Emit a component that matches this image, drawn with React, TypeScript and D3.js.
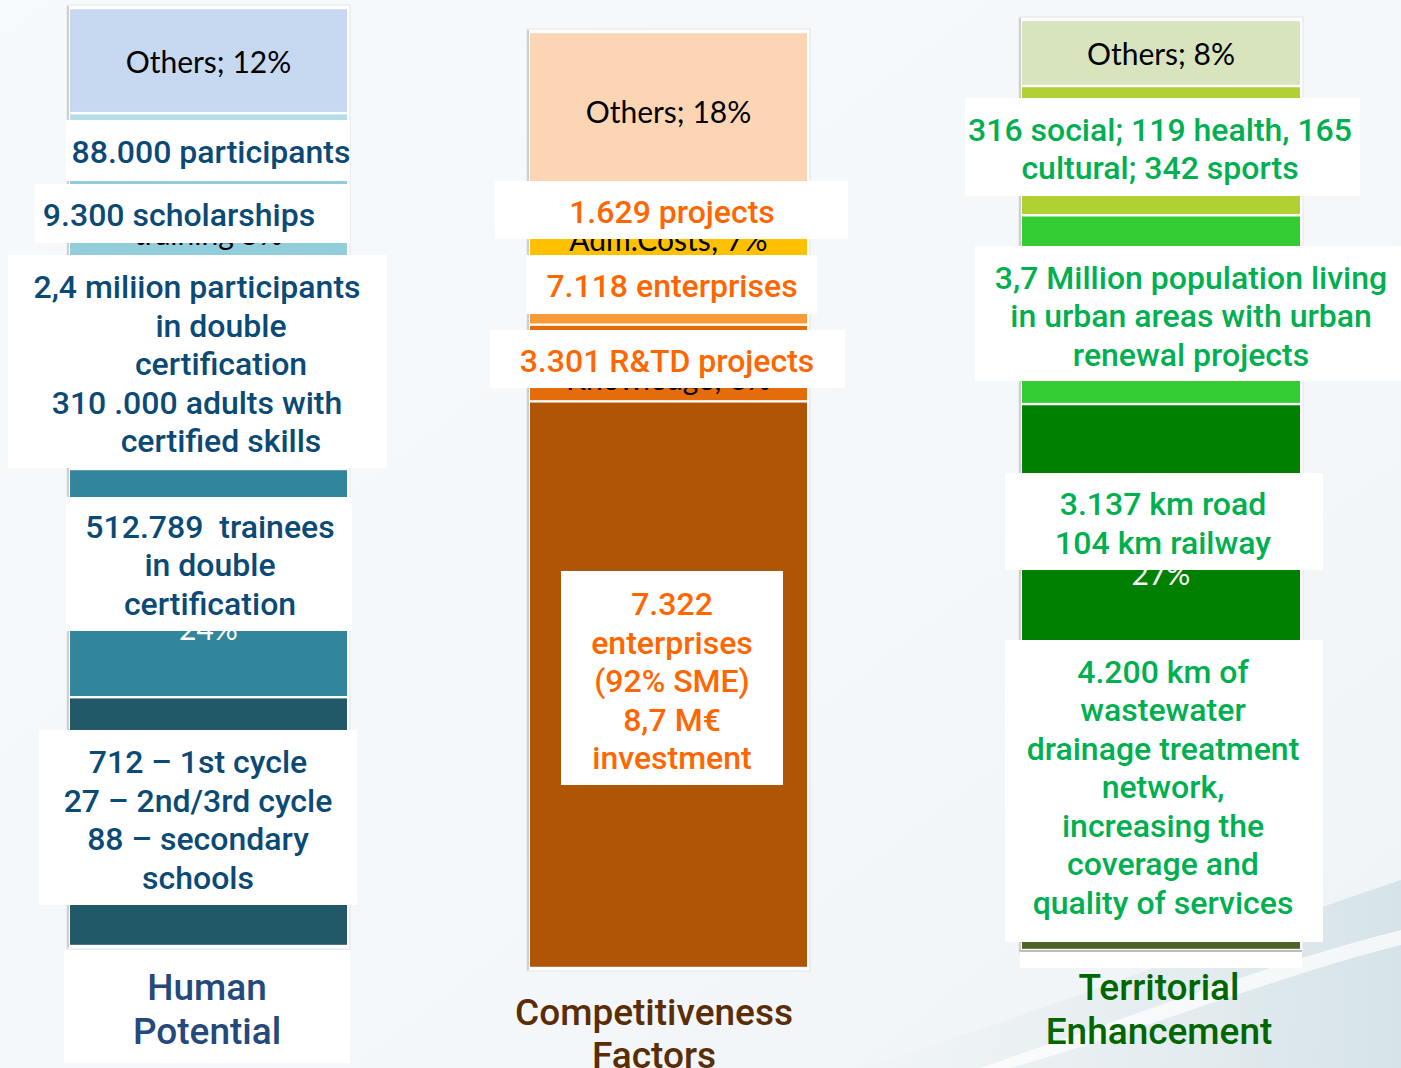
import React from "react";
import * as d3 from "d3";

// Human Potential
const hpNames = ["Others", "Social Development", "Advanced Training", "Adult Learning", "Initial Qualification", "Education Infrastructure"];
const hpValues = [11.2, 6.9, 8.5, 22.5, 24.3, 26.5];
// label lines; "" keeps the slot of a line that lies under a call-out box
const hpLabels = [
  ["Others; 12%"],
  ["Social Develop-", ""],
  ["", "training 5%"],
  [],
  ["", "", "", "24%"],
  [],
];
const hpNotes = [
  ["88.000 participants"],
  ["9.300 scholarships"],
  ["2,4 miliion participants", "in double", "certification", "310 .000 adults with", "certified skills"],
  ["512.789  trainees", "in double", "certification"],
  ["712 – 1st cycle", "27 – 2nd/3rd cycle", "88 – secondary", "schools"],
];

// Competitiveness Factors
const cfNames = ["Others", "Adm.Costs", "Incentives", "Knowledge", "Enterprises"];
const cfValues = [16.9, 7.3, 7.1, 8.2, 60.6];
const cfLabels = [
  ["Others; 18%"],
  ["", "Adm.Costs; 7%"],
  [],
  ["", "Knowledge; 8%"],
  [],
];
const cfNotes = [
  ["1.629 projects"],
  ["7.118 enterprises"],
  ["3.301 R&TD projects"],
  ["7.322", "enterprises", "(92% SME)", "8,7 M€", "investment"],
];

// Territorial Enhancement
const teNames = ["Others", "Equipment", "Urban Regeneration", "Transport", "Environment"];
const teValues = [7.1, 13.9, 20.3, 26.7, 32.0];
const teLabels = [
  ["Others; 8%"],
  [],
  [],
  ["", "", "", "27%"],
  [],
];
const teNotes = [
  ["316 social; 119 health, 165", "cultural; 342 sports"],
  ["3,7 Million population living", "in urban areas with urban", "renewal projects"],
  ["3.137 km road", "104 km railway"],
  ["4.200 km of", "wastewater", "drainage treatment", "network,", "increasing the", "coverage and", "quality of services"],
];

const titles = [["Human", "Potential"], ["Competitiveness", "Factors"], ["Territorial", "Enhancement"]];

// styles
const hpColors = ["#C6D9F1", "#B7DEE8", "#92CDDC", "#4BACC6", "#31859C", "#215968"];
const cfColors = ["#FCD5B5", "#FFC000", "#F99A38", "#E46C0A", "#B05506"];
const teColors = ["#D7E4BD", "#B0D034", "#33CC33", "#008000", "#4F6228"];
const hpLabelInk = ["#000", "#000", "#000", "#fff", "#fff", "#fff"];
const cfLabelInk = ["#000", "#000", "#000", "#000", "#fff"];
const teLabelInk = ["#000", "#000", "#000", "#fff", "#fff"];

const W = 1401;
const H = 1068;
const noteFont = "Roboto, 'Open Sans', sans-serif";
const labelFont = "Lato, 'Liberation Sans', sans-serif";

// layout of the three panels and their call-out boxes
const panels = [
  {
    names: hpNames, values: hpValues, labels: hpLabels, colors: hpColors, ink: hpLabelInk,
    notes: hpNotes, noteColor: "#0C4A76", titleColor: "#24497A",
    x: 70, w: 277, top: 8, bottom: 946,
    boxes: [
      { x0: 66, y0: 120, x1: 350, y1: 181, cx: 211, cy: 152 },
      { x0: 35, y0: 184, x1: 350, y1: 243, cx: 179, cy: 215 },
      { x0: 8, y0: 255, x1: 387, y1: 468, cx: 221, cy: 364, dx: [-24, 0, 0, -24, 0] },
      { x0: 66, y0: 497, x1: 352, y1: 631, cx: 210, cy: 565 },
      { x0: 39, y0: 730, x1: 357, y1: 905, cx: 198, cy: 820 },
    ],
    titleBox: { x0: 64, y0: 950, x1: 350, y1: 1063 },
    title: { cx: 207, y: [987, 1031] },
  },
  {
    names: cfNames, values: cfValues, labels: cfLabels, colors: cfColors, ink: cfLabelInk,
    notes: cfNotes, noteColor: "#FF6600", titleColor: "#5A2D04",
    x: 530, w: 277, top: 32, bottom: 968,
    boxes: [
      { x0: 495, y0: 181, x1: 848, y1: 239, cx: 672, cy: 212 },
      { x0: 526, y0: 255, x1: 817, y1: 314, cx: 672, cy: 286 },
      { x0: 490, y0: 330, x1: 845, y1: 388, cx: 667, cy: 361 },
      { x0: 561, y0: 571, x1: 783, y1: 785, cx: 672, cy: 681 },
    ],
    titleBox: null,
    title: { cx: 654, y: [1012, 1055] },
  },
  {
    names: teNames, values: teValues, labels: teLabels, colors: teColors, ink: teLabelInk,
    notes: teNotes, noteColor: "#00B050", titleColor: "#006600",
    x: 1022, w: 278, top: 20, bottom: 950,
    boxes: [
      { x0: 965, y0: 98, x1: 1360, y1: 196, cx: 1160, cy: 149 },
      { x0: 975, y0: 246, x1: 1401, y1: 381, cx: 1191, cy: 316 },
      { x0: 1005, y0: 473, x1: 1323, y1: 570, cx: 1163, cy: 523.5 },
      { x0: 1005, y0: 640, x1: 1323, y1: 942, cx: 1163, cy: 787 },
    ],
    titleBox: { x0: 1020, y0: 952, x1: 1302, y1: 968 },
    title: { cx: 1159, y: [987, 1031] },
  },
];

const Panel = ({ p, idx }) => {
  const row = Object.fromEntries(p.names.map((n, i) => [n, p.values[i]]));
  const series = d3.stack().keys(p.names)([row]);
  const y = d3.scaleLinear().domain([0, d3.sum(p.values)]).range([p.top, p.bottom]);
  const x = d3.scaleBand().domain(["bar"]).range([p.x, p.x + p.w]).padding(0);
  const bw = x.bandwidth();
  const x0 = x("bar");
  const labelLH = 30;
  const noteLH = 38.5;

  return (
    <g>
      {/* plot area */}
      <rect x={x0 - 3} y={p.top - 3} width={bw + 6} height={p.bottom - p.top + 6} fill="#fff" stroke="#E3E3E3" strokeWidth={1} />
      <line x1={x0 - 2} x2={x0 - 2} y1={p.top - 2} y2={p.bottom + 2} stroke="#CFCFCF" strokeWidth={2} />
      {series.map((s, i) => (
        <rect
          key={s.key}
          x={x0}
          y={y(s[0][0]) + 1.2}
          width={bw}
          height={Math.max(0, y(s[0][1]) - y(s[0][0]) - 2.4)}
          fill={p.colors[i]}
        />
      ))}
      {series.map((s, i) => {
        const c = (y(s[0][0]) + y(s[0][1])) / 2;
        const lines = p.labels[i];
        return lines.map((t, j) =>
          t ? (
            <text
              key={s.key + j}
              x={x0 + bw / 2}
              y={c + (j - (lines.length - 1) / 2) * labelLH}
              textAnchor="middle"
              dominantBaseline="central"
              fontFamily={labelFont}
              fontSize={30}
              fill={p.ink[i]}
            >
              {t}
            </text>
          ) : null
        );
      })}
      {/* call-outs */}
      {p.boxes.map((b, i) => {
        const lines = p.notes[i];
        return (
          <g key={"n" + i}>
            <rect x={b.x0} y={b.y0} width={b.x1 - b.x0} height={b.y1 - b.y0} fill="#fff" />
            {lines.map((t, j) => (
              <text
                key={j}
                x={b.cx + (b.dx ? b.dx[j] : 0)}
                y={b.cy + (j - (lines.length - 1) / 2) * noteLH}
                textAnchor="middle"
                dominantBaseline="central"
                fontFamily={noteFont}
                fontWeight={500}
                fontSize={32}
                fill={p.noteColor}
                style={{ whiteSpace: "pre" }}
              >
                {t}
              </text>
            ))}
          </g>
        );
      })}
      {p.titleBox && (
        <rect x={p.titleBox.x0} y={p.titleBox.y0} width={p.titleBox.x1 - p.titleBox.x0} height={p.titleBox.y1 - p.titleBox.y0} fill="#fff" />
      )}
      {p.titleBox && p.titleBox.y1 < 980 && (
        <line x1={p.titleBox.x0} x2={p.titleBox.x1} y1={p.titleBox.y0 - 1} y2={p.titleBox.y0 - 1} stroke="#BDBDBD" strokeWidth={2} />
      )}
      {titles[idx].map((t, j) => (
        <text
          key={"t" + j}
          x={p.title.cx}
          y={p.title.y[j]}
          textAnchor="middle"
          dominantBaseline="central"
          fontFamily={noteFont}
          fontWeight={500}
          fontSize={37}
          fill={p.titleColor}
        >
          {t}
        </text>
      ))}
    </g>
  );
};

export default function App() {
  return (
    <svg width={W} height={H} style={{ position: "absolute", left: 0, top: 0, display: "block" }}>
      <defs>
        <linearGradient id="bg" x1="0" y1="0" x2="1" y2="1">
          <stop offset="0" stopColor="#F7FAFC" />
          <stop offset="0.6" stopColor="#F5F8FA" />
          <stop offset="1" stopColor="#EEF3F5" />
        </linearGradient>
        <linearGradient id="swoosh" x1="0" y1="0" x2="1" y2="0">
          <stop offset="0" stopColor="#E9EFF2" stopOpacity="0.2" />
          <stop offset="1" stopColor="#D4E2E7" stopOpacity="0.95" />
        </linearGradient>
      </defs>
      <rect width={W} height={H} fill="url(#bg)" />
      <path d="M860,1068 C1050,1010 1250,930 1401,880 L1401,1068 Z" fill="url(#swoosh)" />
      <path d="M980,1068 C1120,1020 1280,960 1401,930 L1401,945 C1280,975 1130,1035 1010,1068 Z" fill="#FFFFFF" opacity="0.7" />
      {panels.map((p, i) => (
        <Panel key={i} p={p} idx={i} />
      ))}
    </svg>
  );
}
